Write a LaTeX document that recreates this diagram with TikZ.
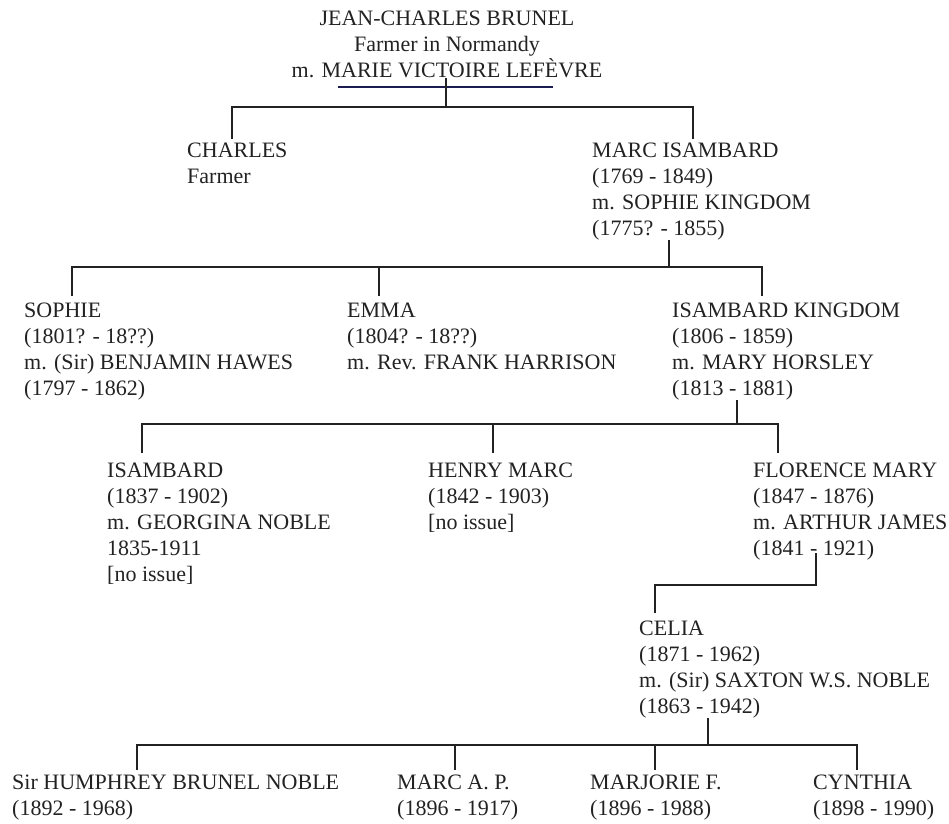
\documentclass[tikz,border=0pt]{standalone}
\usepackage{fontspec}
\setmainfont{Liberation Serif}
\usepackage{xcolor}
\usetikzlibrary{positioning}
\definecolor{ink}{HTML}{222222}
\definecolor{navy}{HTML}{1C1C50}
\tikzset{
    person/.style={align=left, anchor=north west, inner sep=0pt, text=ink,
        font=\fontsize{22}{26}\selectfont}, % one block of text per person
    tree/.style={draw=ink, line width=2.4pt}, % lines of descent
}

\begin{document}
\begin{tikzpicture}[x=1pt,y=1pt]
    \useasboundingbox (0,0) rectangle (949,-823);

    \node[person, align=center, anchor=north] (jcb) at (447,-11)
        {JEAN-CHARLES BRUNEL\\Farmer in Normandy\\m. MARIE VICTOIRE LEF\`EVRE};
    \node[person] (charles) at (187,-143) {CHARLES\\Farmer};
    \node[person] (marc) at (592,-143)
        {MARC ISAMBARD\\(1769 - 1849)\\m. SOPHIE KINGDOM\\(1775? - 1855)};
    \node[person] (sophie) at (24,-303)
        {SOPHIE\\(1801? - 18??)\\m. (Sir) BENJAMIN HAWES\\(1797 - 1862)};
    \node[person] (emma) at (347,-303)
        {EMMA\\(1804? - 18??)\\m. Rev. FRANK HARRISON};
    \node[person] (ik) at (672,-303)
        {ISAMBARD KINGDOM\\(1806 - 1859)\\m. MARY HORSLEY\\(1813 - 1881)};
    \node[person] (isambard) at (107,-463)
        {ISAMBARD\\(1837 - 1902)\\m. GEORGINA NOBLE\\1835-1911\\{[no issue]}};
    \node[person] (henry) at (428,-463) {HENRY MARC\\(1842 - 1903)\\{[no issue]}};
    \node[person] (florence) at (753,-463)
        {FLORENCE MARY\\(1847 - 1876)\\m. ARTHUR JAMES\\(1841 - 1921)};
    \node[person] (celia) at (639,-621)
        {CELIA\\(1871 - 1962)\\m. (Sir) SAXTON W.S. NOBLE\\(1863 - 1942)};
    \node[person] (humphrey) at (12,-775) {Sir HUMPHREY BRUNEL NOBLE\\(1892 - 1968)};
    \node[person] (marcap) at (397,-775) {MARC A. P.\\(1896 - 1917)};
    \node[person] (marjorie) at (590,-775) {MARJORIE F.\\(1896 - 1988)};
    \node[person] (cynthia) at (813,-775) {CYNTHIA\\(1898 - 1990)};

    % Jean-Charles and Marie Victoire
    \coordinate (jcb-m) at (446,-78);
    \coordinate (jcb-bar) at (446,-107);
    \coordinate (charles-in) at (232,-139);
    \coordinate (marc-in) at (693,-139);
    \draw[navy, line width=1.8pt] (338,-87) -- (553,-87);
    \draw[tree] (jcb-m) -- (jcb-bar);
    \draw[tree] (charles-in) |- (jcb-bar) -| (marc-in);

    % Marc Isambard and Sophie
    \coordinate (marc-m) at (669,-240);
    \coordinate (marc-bar) at (669,-267);
    \coordinate (sophie-in) at (72,-296);
    \coordinate (emma-in) at (379,-296);
    \coordinate (ik-in) at (762,-296);
    \draw[tree] (marc-m) -- (marc-bar);
    \draw[tree] (sophie-in) |- (marc-bar) -| (ik-in);
    \draw[tree] (emma-in) -- (emma-in |- marc-bar);

    % Isambard Kingdom and Mary
    \coordinate (ik-m) at (737,-400);
    \coordinate (ik-bar) at (737,-424);
    \coordinate (isambard-in) at (142,-453);
    \coordinate (henry-in) at (493,-453);
    \coordinate (florence-in) at (778,-453);
    \draw[tree] (ik-m) -- (ik-bar);
    \draw[tree] (isambard-in) |- (ik-bar) -| (florence-in);
    \draw[tree] (henry-in) -- (henry-in |- ik-bar);

    % Florence Mary and Arthur
    \coordinate (florence-m) at (816,-553);
    \coordinate (florence-bar) at (816,-585);
    \coordinate (celia-in) at (655,-613);
    \draw[tree] (florence-m) -- (florence-bar) -| (celia-in);

    % Celia and Saxton
    \coordinate (celia-m) at (708,-718);
    \coordinate (celia-bar) at (708,-745);
    \coordinate (humphrey-in) at (137,-770);
    \coordinate (marcap-in) at (455,-770);
    \coordinate (marjorie-in) at (655,-770);
    \coordinate (cynthia-in) at (857,-770);
    \draw[tree] (celia-m) -- (celia-bar);
    \draw[tree] (humphrey-in) |- (celia-bar) -| (cynthia-in);
    \draw[tree] (marcap-in) -- (marcap-in |- celia-bar);
    \draw[tree] (marjorie-in) -- (marjorie-in |- celia-bar);
\end{tikzpicture}
\end{document}
